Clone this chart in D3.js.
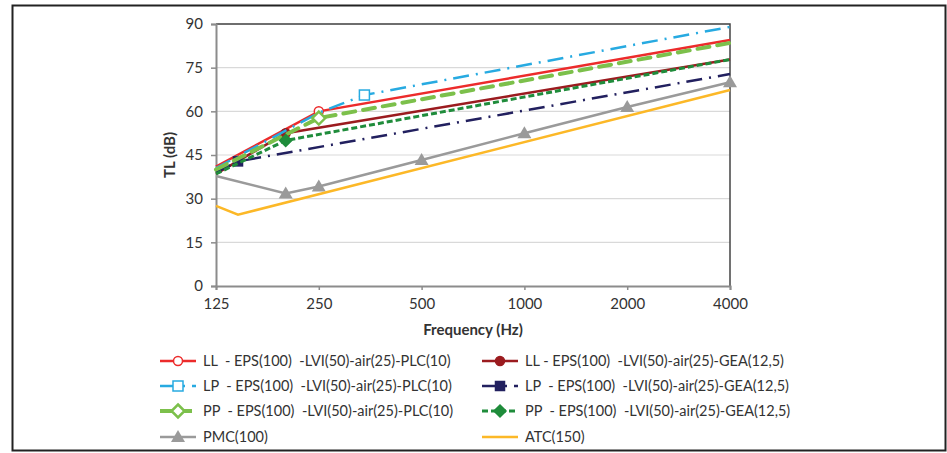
<!DOCTYPE html>
<html>
<head>
<meta charset="utf-8">
<script src="https://cdn.jsdelivr.net/npm/d3@7"></script>
<style>
  body { margin: 0; background: #fff; }
  svg text { font-family: Lato, "Open Sans", sans-serif; fill: #333; }
</style>
</head>
<body>
<div id="chart"></div>
<script>
// x ticks (Hz) and y ticks (dB)
var freqTicks = [125, 250, 500, 1000, 2000, 4000];
var tlTicks = [0, 15, 30, 45, 60, 75, 90];

// series data: [frequency, TL, showMarker]
var llPlc = [[125, 41, 0], [250, 60, 1], [4000, 84.5, 0]];
var llGea = [[125, 38.5, 0], [200, 52.5, 1], [4000, 77.8, 0]];
var lpPlc = [[125, 40.5, 0], [250, 59.5, 0], [340, 65.6, 1], [4000, 89, 0]];
var lpGea = [[125, 39, 0], [145, 42.8, 1], [4000, 72.8, 0]];
var ppPlc = [[125, 40, 0], [250, 57.7, 1], [4000, 83.5, 0]];
var ppGea = [[125, 38.5, 0], [200, 50, 1], [4000, 77.8, 0]];
var pmc   = [[125, 37.8, 0], [200, 31.8, 1], [250, 34.2, 1], [500, 43.3, 1], [1000, 52.5, 1], [2000, 61.5, 1], [4000, 70, 1]];
var atc   = [[125, 27.5, 0], [145, 24.5, 0], [4000, 67.3, 0]];

var seriesNames = [
  "LL  - EPS(100)  -LVI(50)-air(25)-PLC(10)",
  "LL - EPS(100)  -LVI(50)-air(25)-GEA(12,5)",
  "LP  - EPS(100)  -LVI(50)-air(25)-PLC(10)",
  "LP  - EPS(100)  -LVI(50)-air(25)-GEA(12,5)",
  "PP  - EPS(100)  -LVI(50)-air(25)-PLC(10)",
  "PP  - EPS(100)  -LVI(50)-air(25)-GEA(12,5)",
  "PMC(100)",
  "ATC(150)"
];

var series = [
  {data: llPlc, color: "#ec2b2b", width: 2.5, dash: null, marker: "circle", open: true},
  {data: llGea, color: "#9b1b1f", width: 2.5, dash: null, marker: "circle", open: false},
  {data: lpPlc, color: "#27aae1", width: 2.5, dash: "16,7,2,7", marker: "square", open: true},
  {data: lpGea, color: "#22205f", width: 2.5, dash: "16,7,2,7", marker: "square", open: false},
  {data: ppPlc, color: "#7cc04b", width: 4, dash: "12,8", marker: "diamond", open: true},
  {data: ppGea, color: "#1f8c3b", width: 3, dash: "6,3", marker: "diamond", open: false},
  {data: pmc,   color: "#9a9a9a", width: 2.5, dash: null, marker: "triangle", open: false},
  {data: atc,   color: "#fcb827", width: 2.5, dash: null, marker: null, open: false}
];

var W = 947, H = 453;
var svg = d3.select("#chart").append("svg")
  .attr("width", W)
  .attr("height", H);

// outer frame
svg.append("rect")
  .attr("x", 12.5).attr("y", 5.5)
  .attr("width", 933).attr("height", 445)
  .attr("fill", "none")
  .attr("stroke", "#222")
  .attr("stroke-width", 2);

var x = d3.scaleLog().base(2)
  .domain([125, 4000])
  .range([216, 730]);

var y = d3.scaleLinear()
  .domain([0, 90])
  .range([286, 24]);

// gridlines
svg.append("g")
  .selectAll("line")
  .data(tlTicks.slice(1))
  .enter().append("line")
  .attr("x1", x(125)).attr("x2", x(4000))
  .attr("y1", function(d) { return y(d); })
  .attr("y2", function(d) { return y(d); })
  .attr("stroke", "#d9d9d9")
  .attr("stroke-width", 1.2);

// top + right border of plot
svg.append("path")
  .attr("d", "M" + x(125) + "," + y(90) + "H" + x(4000) + "V" + y(0))
  .attr("fill", "none")
  .attr("stroke", "#444")
  .attr("stroke-width", 1.5);

// axes
var xAxis = svg.append("g")
  .attr("transform", "translate(0," + y(0) + ")")
  .call(d3.axisBottom(x).tickValues(freqTicks).tickFormat(d3.format("d")).tickSizeOuter(0).tickSize(4).tickPadding(8));

var yAxis = svg.append("g")
  .attr("transform", "translate(" + x(125) + ",0)")
  .call(d3.axisLeft(y).tickValues(tlTicks).tickSizeOuter(0).tickSize(5).tickPadding(8));

[xAxis, yAxis].forEach(function(a) {
  a.select(".domain").attr("stroke", "#8c8c8c").attr("stroke-width", 2);
  a.selectAll(".tick line").attr("stroke", "#8c8c8c").attr("stroke-width", 1.5);
  a.selectAll(".tick text").style("font-size", "15px").style("font-family", "Lato").attr("fill", "#333");
});

// axis titles
svg.append("text")
  .attr("x", 473).attr("y", 335)
  .attr("text-anchor", "middle")
  .style("font-size", "15px")
  .style("font-weight", "bold")
  .text("Frequency (Hz)");

svg.append("text")
  .attr("transform", "translate(175,155) rotate(-90)")
  .attr("text-anchor", "middle")
  .style("font-size", "15px")
  .style("font-weight", "bold")
  .text("TL (dB)");

function drawMarker(g, s, px, py) {
  var fill = s.open ? "#fff" : s.color;
  if (s.marker == "circle") {
    g.append("circle").attr("cx", px).attr("cy", py).attr("r", 4.5)
      .attr("fill", fill).attr("stroke", s.color).attr("stroke-width", 1.5);
  } else if (s.marker == "square") {
    var a = s.open ? 10 : 9;
    g.append("rect").attr("x", px - a / 2).attr("y", py - a / 2).attr("width", a).attr("height", a)
      .attr("fill", fill).attr("stroke", s.color).attr("stroke-width", 1.5);
  } else if (s.marker == "diamond") {
    var r = s.open ? 6.5 : 6;
    g.append("path")
      .attr("d", "M" + px + "," + (py - r) + "L" + (px + r) + "," + py + "L" + px + "," + (py + r) + "L" + (px - r) + "," + py + "Z")
      .attr("fill", fill).attr("stroke", s.color).attr("stroke-width", s.open ? 2.5 : 1.5);
  } else if (s.marker == "triangle") {
    g.append("path")
      .attr("d", "M" + px + "," + (py - 7) + "L" + (px + 7) + "," + (py + 5) + "L" + (px - 7) + "," + (py + 5) + "Z")
      .attr("fill", fill);
  }
}

var line = d3.line()
  .x(function(d) { return x(d[0]); })
  .y(function(d) { return y(d[1]); });

var plot = svg.append("g");
series.forEach(function(s) {
  var g = plot.append("g");
  g.append("path")
    .datum(s.data)
    .attr("d", line)
    .attr("fill", "none")
    .attr("stroke", s.color)
    .attr("stroke-width", s.width)
    .attr("stroke-dasharray", s.dash)
    .attr("stroke-linecap", s.width > 3 ? "round" : "butt");
  s.data.forEach(function(d) {
    if (d[2]) drawMarker(g, s, x(d[0]), y(d[1]));
  });
});

// legend (row-major, two columns)
var legend = svg.append("g");
var colX = [160, 482];
var rowY = [361, 386, 411, 437];
series.forEach(function(s, i) {
  var lx = colX[i % 2], ly = rowY[Math.floor(i / 2)];
  var g = legend.append("g");
  g.append("line")
    .attr("x1", lx).attr("x2", lx + 36)
    .attr("y1", ly).attr("y2", ly)
    .attr("stroke", s.color)
    .attr("stroke-width", s.width)
    .attr("stroke-dasharray", s.dash);
  if (s.marker) drawMarker(g, s, lx + 18, ly);
  g.append("text")
    .attr("x", lx + 43).attr("y", ly + 5)
    .style("font-size", "14.5px")
    .style("white-space", "pre")
    .text(seriesNames[i]);
});
</script>
</body>
</html>
